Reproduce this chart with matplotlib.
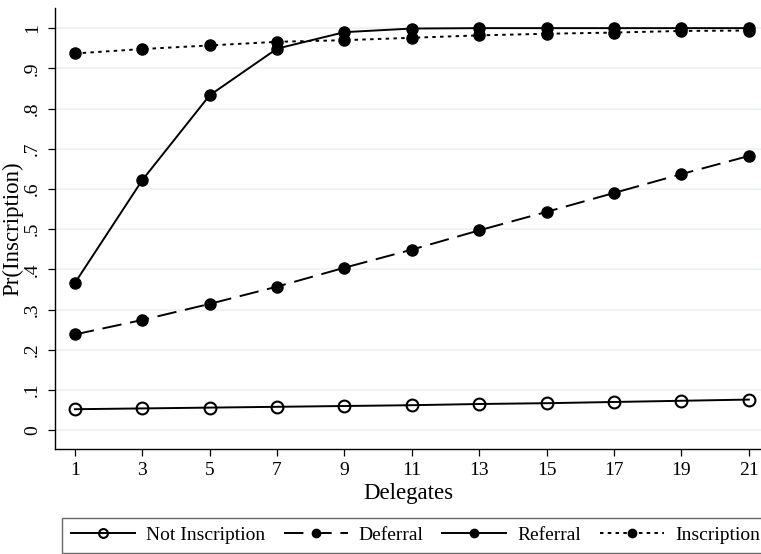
import matplotlib
matplotlib.use("Agg")
import matplotlib.pyplot as plt

plt.rcParams['font.family'] = ['Liberation Serif', 'DejaVu Serif']

delegates = [1, 3, 5, 7, 9, 11, 13, 15, 17, 19, 21]
not_inscription = [0.052, 0.054, 0.056, 0.058, 0.060, 0.062, 0.065, 0.067, 0.070, 0.073, 0.076]
deferral = [0.238, 0.274, 0.314, 0.357, 0.404, 0.449, 0.497, 0.543, 0.590, 0.637, 0.682]
referral = [0.366, 0.622, 0.833, 0.949, 0.990, 0.999, 1.0, 1.0, 1.0, 1.0, 1.0]
inscription = [0.937, 0.948, 0.957, 0.966, 0.970, 0.976, 0.982, 0.986, 0.989, 0.993, 0.994]
yticks = [0, 0.1, 0.2, 0.3, 0.4, 0.5, 0.6, 0.7, 0.8, 0.9, 1.0]
ytick_labels = ['0', '.1', '.2', '.3', '.4', '.5', '.6', '.7', '.8', '.9', '1']

fig = plt.figure(figsize=(7.61, 5.54), dpi=100)
ax = fig.add_axes([0.0723, 0.1895, 0.9277, 0.796])

lw = 1.4
ax.plot(delegates, not_inscription, color='black', lw=lw, marker='o', ms=8.5,
        mfc='none', mec='black', mew=1.5, label='Not Inscription')
ax.plot(delegates, deferral, color='black', lw=lw, ls=(0, (10, 4.5)), marker='o', ms=8,
        mfc='black', mec='black', label='Deferral')
ax.plot(delegates, referral, color='black', lw=lw, marker='o', ms=8,
        mfc='black', mec='black', label='Referral')
ax.plot(delegates, inscription, color='black', lw=lw, ls=(0, (1.8, 2.2)), marker='o', ms=8,
        mfc='black', mec='black', label='Inscription')

ax.set_xlim(0.41, 21.36)
ax.set_ylim(-0.047, 1.05)
ax.set_xticks(delegates)
ax.set_yticks(yticks)
ax.set_yticklabels(ytick_labels, rotation=90, va='center')
ax.grid(axis='y', color='#eaf2f3', lw=1.2)
ax.set_axisbelow(True)
for s in ['top', 'right']:
    ax.spines[s].set_visible(False)
ax.spines['left'].set_linewidth(1.0)
ax.spines['bottom'].set_linewidth(1.0)
ax.tick_params(axis='both', direction='out', length=5, width=0.9, labelsize=14)
ax.tick_params(axis='y', pad=5)
ax.tick_params(axis='x', pad=4)
ax.set_xlabel('Delegates', fontsize=16.5, labelpad=3)
ax.set_ylabel('Pr(Inscription)', fontsize=16.5, labelpad=0.5)

leg = fig.legend(loc='lower left', bbox_to_anchor=(62 / 761, 1 / 554), ncol=4, fontsize=14,
                 frameon=True, fancybox=False, edgecolor='#444444', handlelength=3.3,
                 columnspacing=0.95, handletextpad=0.57, borderpad=0.45, borderaxespad=0,
                 markerscale=0.75)
leg.get_frame().set_linewidth(1.0)

fig.savefig('out.png', dpi=100)
